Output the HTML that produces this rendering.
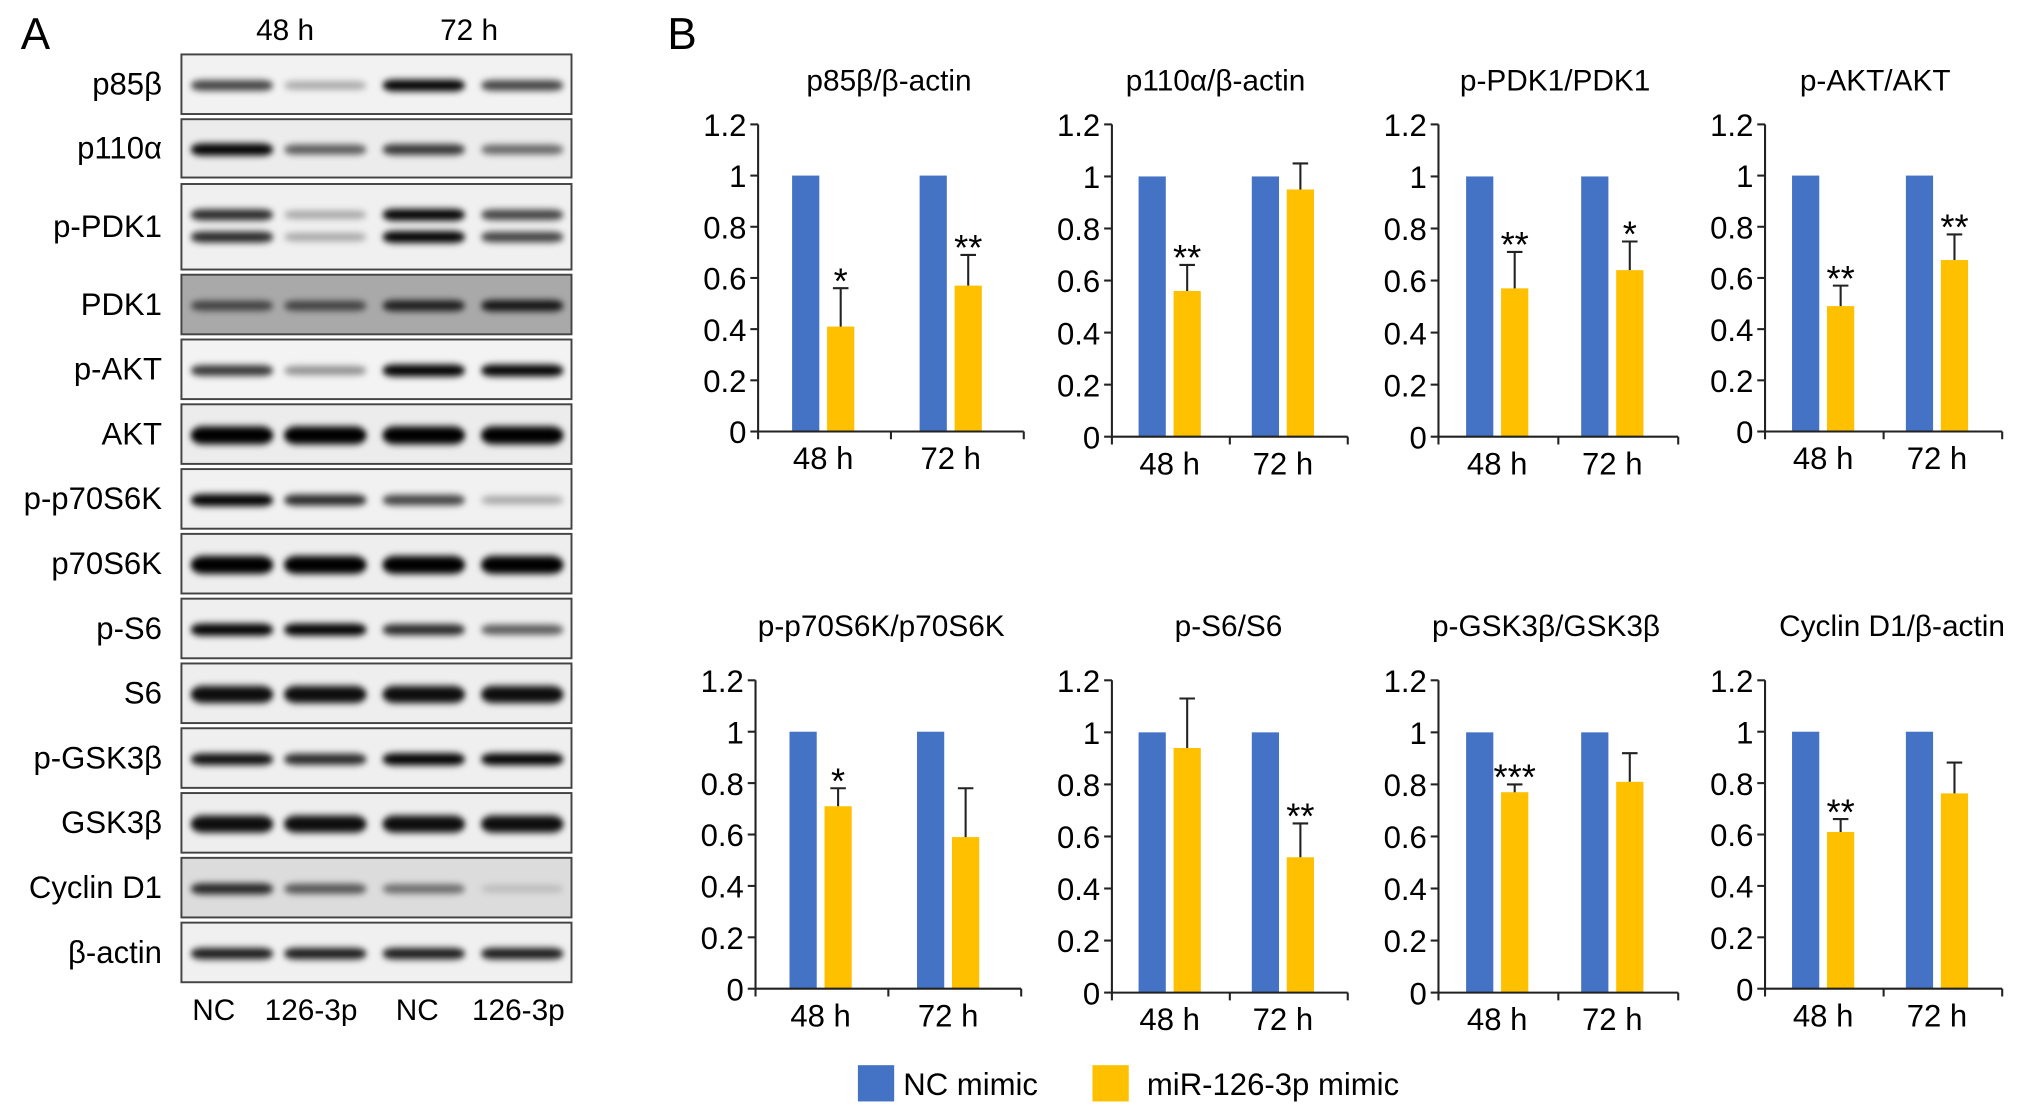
<!DOCTYPE html>
<html><head><meta charset="utf-8">
<style>
html,body{margin:0;padding:0;background:#fff;}
svg{display:block;font-family:"Liberation Sans",Arial,sans-serif;}
</style></head>
<body>
<svg id="fig" width="2032" height="1117" viewBox="0 0 1568 862" preserveAspectRatio="none" xmlns="http://www.w3.org/2000/svg">
<defs>
<filter id="blur" x="-20%" y="-100%" width="140%" height="300%"><feGaussianBlur stdDeviation="2.2 2.6"/></filter>
</defs>
<text x="16" y="38" font-size="34">A</text>
<text x="515" y="38" font-size="34">B</text>
<g id="blots"></g>
<g id="charts"></g>
<g>
<rect x="662" y="822" width="28" height="28" fill="#4472C4"/>
<text x="697" y="845" font-size="24">NC mimic</text>
<rect x="843" y="822" width="28" height="28" fill="#FFC000"/>
<text x="885" y="845" font-size="24">miR-126-3p mimic</text>
</g>
</svg>
<script>
const NS="http://www.w3.org/2000/svg";
function mk(tag,attrs,parent){const e=document.createElementNS(NS,tag);for(const k in attrs)e.setAttribute(k,attrs[k]);parent.appendChild(e);return e;}

// ---------- Western blot data ----------
const blotLabels=["p85β","p110α","p-PDK1","PDK1","p-AKT","AKT","p-p70S6K","p70S6K","p-S6","S6","p-GSK3β","GSK3β","Cyclin D1","β-actin"];
const blotTops=[42,92,142,212,262,312,362,412,462,512,562,612,662,712];
const blotHeights=[46,45,66,46,46,46,46,46,46,46,46,46,46,46];
const blotIntensity=[[0.7,0.3,0.95,0.7],[1,0.6,0.75,0.55],[0.8,0.3,0.95,0.7],[0.6,0.6,0.8,0.85],[0.75,0.4,1,0.95],[1,1,1,1],[1,0.8,0.7,0.3],[1,1,1,1],[1,1,0.8,0.6],[0.9,0.9,0.9,0.9],[0.9,0.8,1,0.95],[0.9,0.9,0.9,0.9],[0.8,0.6,0.5,0.15],[0.85,0.85,0.85,0.85]];
const blotBg=["#f2f2f2","#ececec","#f0f0f0","#a9a9a9","#f3f3f3","#ececec","#f1f1f1","#eeeeee","#efefef","#eeeeee","#efefef","#eeeeee","#dcdcdc","#f0f0f0"];
const laneCenters=[179,251,327,403];
const laneLabels=["NC","126-3p","NC","126-3p"];
const blots=document.getElementById('blots');
for(let i=0;i<blotLabels.length;i++){
  const t=blotTops[i],h=blotHeights[i];
  const g=mk('g',{},blots);
  
  
  const r=mk('rect',{x:140,y:t,width:301,height:h,fill:blotBg[i],stroke:'#444','stroke-width':1.5},g);
  
  
  const bands=(i===2)?[0.36,0.62]:[0.52];
  const thick=(blotIntensity[i].every(v=>v>=0.9))?9:6;
  for(let l=0;l<4;l++){
    const v=blotIntensity[i][l];
    bands.forEach(f=>{
      const e=mk('rect',{x:laneCenters[l]-32,y:t+h*f-thick*(0.6+0.5*v)*0.7,width:64,height:thick*(0.6+0.5*v)*1.4,rx:10,fill:'#000','fill-opacity':Math.min(1,v*1.05),filter:'url(#blur)'},g);
      
      
    });
  }
  const lt=mk('text',{x:125,y:t+h/2+8,'font-size':24,'text-anchor':'end'},g);
  
  
  lt.textContent=blotLabels[i];
}
[["48 h",220],["72 h",362]].forEach(([s,x])=>{const t=mk('text',{x:x,y:31,'font-size':23,'text-anchor':'middle'},blots);t.textContent=s;});
laneLabels.forEach((s,l)=>{const t=mk('text',{x:[165,240,322,400][l],y:787,'font-size':23,'text-anchor':'middle'},blots);t.textContent=s;});

// ---------- Bar chart data ----------
const chartTitles=["p85β/β-actin","p110α/β-actin","p-PDK1/PDK1","p-AKT/AKT","p-p70S6K/p70S6K","p-S6/S6","p-GSK3β/GSK3β","Cyclin D1/β-actin"];
const categories=["48 h","72 h"];
const ncValues=[[1,1],[1,1],[1,1],[1,1],[1,1],[1,1],[1,1],[1,1]];
const mirValues=[[0.41,0.57],[0.56,0.95],[0.57,0.64],[0.49,0.67],[0.71,0.59],[0.94,0.52],[0.77,0.81],[0.61,0.76]];
const mirErrors=[[0.15,0.12],[0.10,0.10],[0.14,0.11],[0.08,0.10],[0.07,0.19],[0.19,0.13],[0.03,0.11],[0.05,0.12]];
const sigMarks=[["*","**"],["**",""],["**","*"],["**","**"],["*",""],["","**"],["***",""],["**",""]];
const yTicks=[0,0.2,0.4,0.6,0.8,1,1.2];
const yTickLabels=["0","0.2","0.4","0.6","0.8","1","1.2"];
// layout (not data)
const layout=[
 {x:585,w:205,top:96,zero:333,tx:686,ty:70},
 {x:858,w:182,top:96,zero:337,tx:938,ty:70},
 {x:1110,w:185,top:96,zero:337,tx:1200,ty:70},
 {x:1362,w:183,top:96,zero:333,tx:1447,ty:70},
 {x:583,w:205,top:525,zero:763,tx:680,ty:491},
 {x:858,w:182,top:525,zero:766,tx:948,ty:491},
 {x:1110,w:185,top:525,zero:766,tx:1193,ty:491},
 {x:1362,w:183,top:525,zero:763,tx:1460,ty:491}];
const charts=document.getElementById('charts');
layout.forEach((L,c)=>{
  const g=mk('g',{},charts);
  
  
  const y=v=>L.zero-(L.zero-L.top)*v/1.2;
  const gc=[L.x+L.w*0.245,L.x+L.w*0.725];
  const t=mk('text',{x:L.tx,y:L.ty,'font-size':23,'text-anchor':'middle'},g);
  
  
  t.textContent=chartTitles[c];
  categories.forEach((cat,k)=>{
    const b1=mk('rect',{x:gc[k]-24,y:y(ncValues[c][k]),width:21,height:L.zero-y(ncValues[c][k]),fill:'#4472C4'},g);
    
    
    const b2=mk('rect',{x:gc[k]+3,y:y(mirValues[c][k]),width:21,height:L.zero-y(mirValues[c][k]),fill:'#FFC000'},g);
    
    
    const cx=gc[k]+13.5, ye=y(mirValues[c][k]+mirErrors[c][k]);
    const e=mk('path',{d:`M${cx},${y(mirValues[c][k])}V${ye}M${cx-6},${ye}H${cx+6}`,stroke:'#222','stroke-width':1.6,fill:'none'},g);
    
    
    if(sigMarks[c][k]){
      const s=mk('text',{x:cx,y:ye+4,'font-size':28,'text-anchor':'middle'},g);
      
      
      s.textContent=sigMarks[c][k];
    }
    const cl=mk('text',{x:gc[k],y:L.zero+29,'font-size':24,'text-anchor':'middle'},g);
    
    
    cl.textContent=cat;
  });
  const ax=mk('path',{d:`M${L.x},${L.top}V${L.zero}H${L.x+L.w}M${L.x+L.w/2},${L.zero}v6M${L.x+L.w},${L.zero}v6M${L.x},${L.zero}v6`,stroke:'#222','stroke-width':1.6,fill:'none'},g);
  
  
  yTicks.forEach((v,i)=>{
    const tk=mk('line',{x1:L.x-6,x2:L.x,y1:y(v),y2:y(v),stroke:'#222','stroke-width':1.6},g);
    
    
    const tl=mk('text',{x:L.x-9,y:y(v)+9,'font-size':24,'text-anchor':'end'},g);
    
    
    tl.textContent=yTickLabels[i];
  });
});
</script>
</body></html>
